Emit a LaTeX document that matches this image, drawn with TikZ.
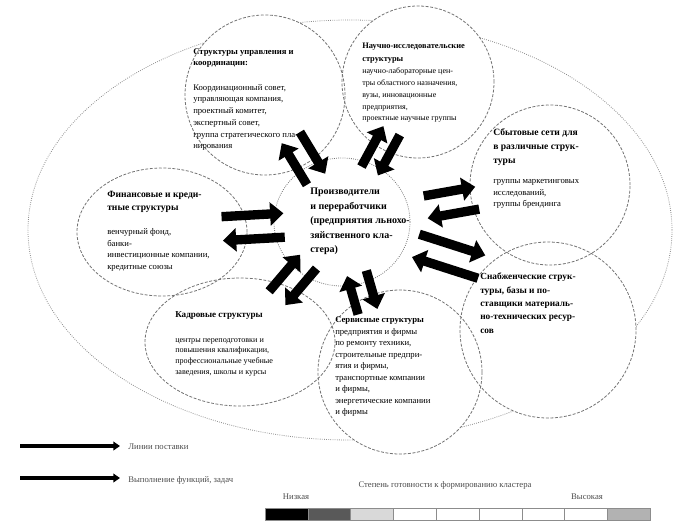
\documentclass[tikz,border=0pt]{standalone}
\usepackage{fontspec}
\setmainfont{Liberation Serif}
\usetikzlibrary{calc,arrows.meta,shapes.geometric}
\newcommand\arrpair[4]{%
  \coordinate (n#1) at ($(ctr)!#2!(#1)$);
  \coordinate (f#1) at ($(ctr)!#3!(#1)$);
  \draw[blockarrow] ($(f#1)!#4!90:(ctr)$) -- ($(n#1)!#4!90:(ctr)$);
  \draw[blockarrow] ($(n#1)!#4!-90:(ctr)$) -- ($(f#1)!#4!-90:(ctr)$);
}
\tikzset{
  outline/.style={draw=black!55, line width=0.6pt, dash pattern=on 2.2pt off 1.2pt},
  sat/.style={outline, circle, inner sep=0pt},
  satell/.style={outline, ellipse, inner sep=0pt},
  blockarrow/.style={line width=7pt, black, -{Triangle[length=10pt,width=17pt]}},
  legarrow/.style={line width=3.5pt, black, -{Triangle[length=5pt,width=6.5pt]}},
  txt/.style={anchor=north west, inner sep=0pt, align=left, font=\fontsize{6.5}{8.8}\selectfont},
  head/.style={anchor=north west, inner sep=0pt, align=left, font=\fontsize{7.2}{9.5}\selectfont\bfseries},
  legtxt/.style={inner sep=0pt, text=black!70, font=\fontsize{6.5}{8}\selectfont},
  seg/.style={draw=black!45, line width=0.4pt}
}
\begin{document}
\begin{tikzpicture}[x=0.75pt,y=-0.75pt]
\useasboundingbox (0,0) rectangle (680,522);
% outer ellipse
\node[draw=black!45, line width=0.6pt, densely dotted, ellipse, inner sep=0pt,
      minimum width=483pt, minimum height=315pt] (outer) at (350,230) {};
% fills
\fill[white] (265,95) circle (60pt);
\fill[white] (418,82) circle (57pt);
\fill[white] (550,185) circle (60pt);
\fill[white] (548,330) circle (66pt);
\fill[white] (400,372) circle (61.5pt);
\fill[white] (240,342) ellipse (71.25pt and 48pt);
\fill[white] (162,232) ellipse (63.75pt and 48pt);
% satellites
\node[sat, minimum size=120pt] (s1) at (265,95) {};
\node[sat, minimum size=114pt] (s2) at (418,82) {};
\node[sat, minimum size=120pt] (s3) at (550,185) {};
\node[sat, minimum size=132pt] (s4) at (548,330) {};
\node[sat, minimum size=123pt] (s5) at (400,372) {};
\node[satell, minimum width=142.5pt, minimum height=96pt] (s6) at (240,342) {};
\node[satell, minimum width=127.5pt, minimum height=96pt] (s7) at (162,232) {};
% centre
\node[draw=black!55, line width=0.6pt, densely dotted, fill=white, ellipse, inner sep=0pt,
      minimum width=102pt, minimum height=96pt] (ctr) at (342,222) {};
% aiming points for the arrow pairs
\coordinate (s4dir) at (560,292);
\coordinate (s5dir) at (385,372);
% arrows
\arrpair{s1}{37.5pt}{74pt}{8pt}
\arrpair{s2}{43.5pt}{78pt}{7pt}
\arrpair{s3}{63.75pt}{103pt}{8.5pt}
\arrpair{s4dir}{58pt}{110pt}{9pt}
\arrpair{s5dir}{40pt}{70pt}{7.5pt}
\arrpair{s6}{39pt}{75pt}{8pt}
\arrpair{s7}{43.5pt}{90pt}{9pt}
% texts
\node[head, font=\fontsize{6.5}{8.5}\selectfont\bfseries] (t1h) at (193,48) {Структуры управления и\\координации:};
\node[txt] (t1b) at (193,84) {Координационный совет,\\управляющая компания,\\проектный комитет,\\экспертный совет,\\группа стратегического пла-\\нирования};
\node[head, font=\fontsize{6.3}{9.5}\selectfont\bfseries] (t2h) at (362,43) {Научно-исследовательские\\структуры};
\node[txt, font=\fontsize{6}{8.8}\selectfont] (t2b) at (362,68) {научно-лабораторные цен-\\тры областного назначения,\\вузы, инновационные\\предприятия,\\проектные научные группы};
\node[head, font=\fontsize{7.2}{10.5}\selectfont\bfseries] (t3h) at (493,128) {Сбытовые сети для\\в различные струк-\\туры};
\node[txt] (t3b) at (493,179) {группы маркетинговых\\исследований,\\группы брендинга};
\node[head] (t7h) at (107,191) {Финансовые и креди-\\тные структуры};
\node[txt] (t7b) at (107,228) {венчурный фонд,\\банки-\\инвестиционные компании,\\кредитные союзы};
\node[head, font=\fontsize{7.5}{10.9}\selectfont\bfseries] (tc) at (310,188) {Производители\\и переработчики\\(предприятия льнохо-\\зяйственного кла-\\стера)};
\node[head, font=\fontsize{7}{10}\selectfont\bfseries] (t4) at (480,273) {Снабженческие струк-\\туры, базы и по-\\ставщики материаль-\\но-технических ресур-\\сов};
\node[head, font=\fontsize{6.8}{9}\selectfont\bfseries] (t6h) at (175,311) {Кадровые структуры};
\node[txt, font=\fontsize{6.1}{8}\selectfont] (t6b) at (175,338) {центры переподготовки и\\повышения квалификации,\\профессиональные учебные\\заведения, школы и курсы};
\node[head, font=\fontsize{6.5}{9}\selectfont\bfseries] (t5h) at (335,316) {Сервисные структуры};
\node[txt, font=\fontsize{6.5}{8.6}\selectfont] (t5b) at (335,328) {предприятия и фирмы\\по ремонту техники,\\строительные предпри-\\ятия и фирмы,\\транспортные компании\\и фирмы,\\энергетические компании\\и фирмы};
% legend
\coordinate (la1) at (20,446);
\coordinate (la2) at (120,446);
\coordinate (lb1) at (20,478);
\coordinate (lb2) at (120,478);
\draw[legarrow] (la1) -- (la2);
\draw[legarrow] (lb1) -- (lb2);
\node[legtxt, anchor=west] (l1) at (128,447) {Линии поставки};
\node[legtxt, anchor=west] (l2) at (128,480) {Выполнение функций, задач};
\node[legtxt] (l3) at (445,485) {Степень готовности к формированию кластера};
\node[legtxt] (l4) at (296,497) {Низкая};
\node[legtxt] (l5) at (587,497) {Высокая};
\foreach \i/\c in {0/black,1/black!65,2/black!15,3/white,4/white,5/white,6/white,7/white,8/black!30}{
  \draw[seg, fill=\c] ({265+\i*42.8},508) rectangle ({265+(\i+1)*42.8},520);
}
\end{tikzpicture}
\end{document}
